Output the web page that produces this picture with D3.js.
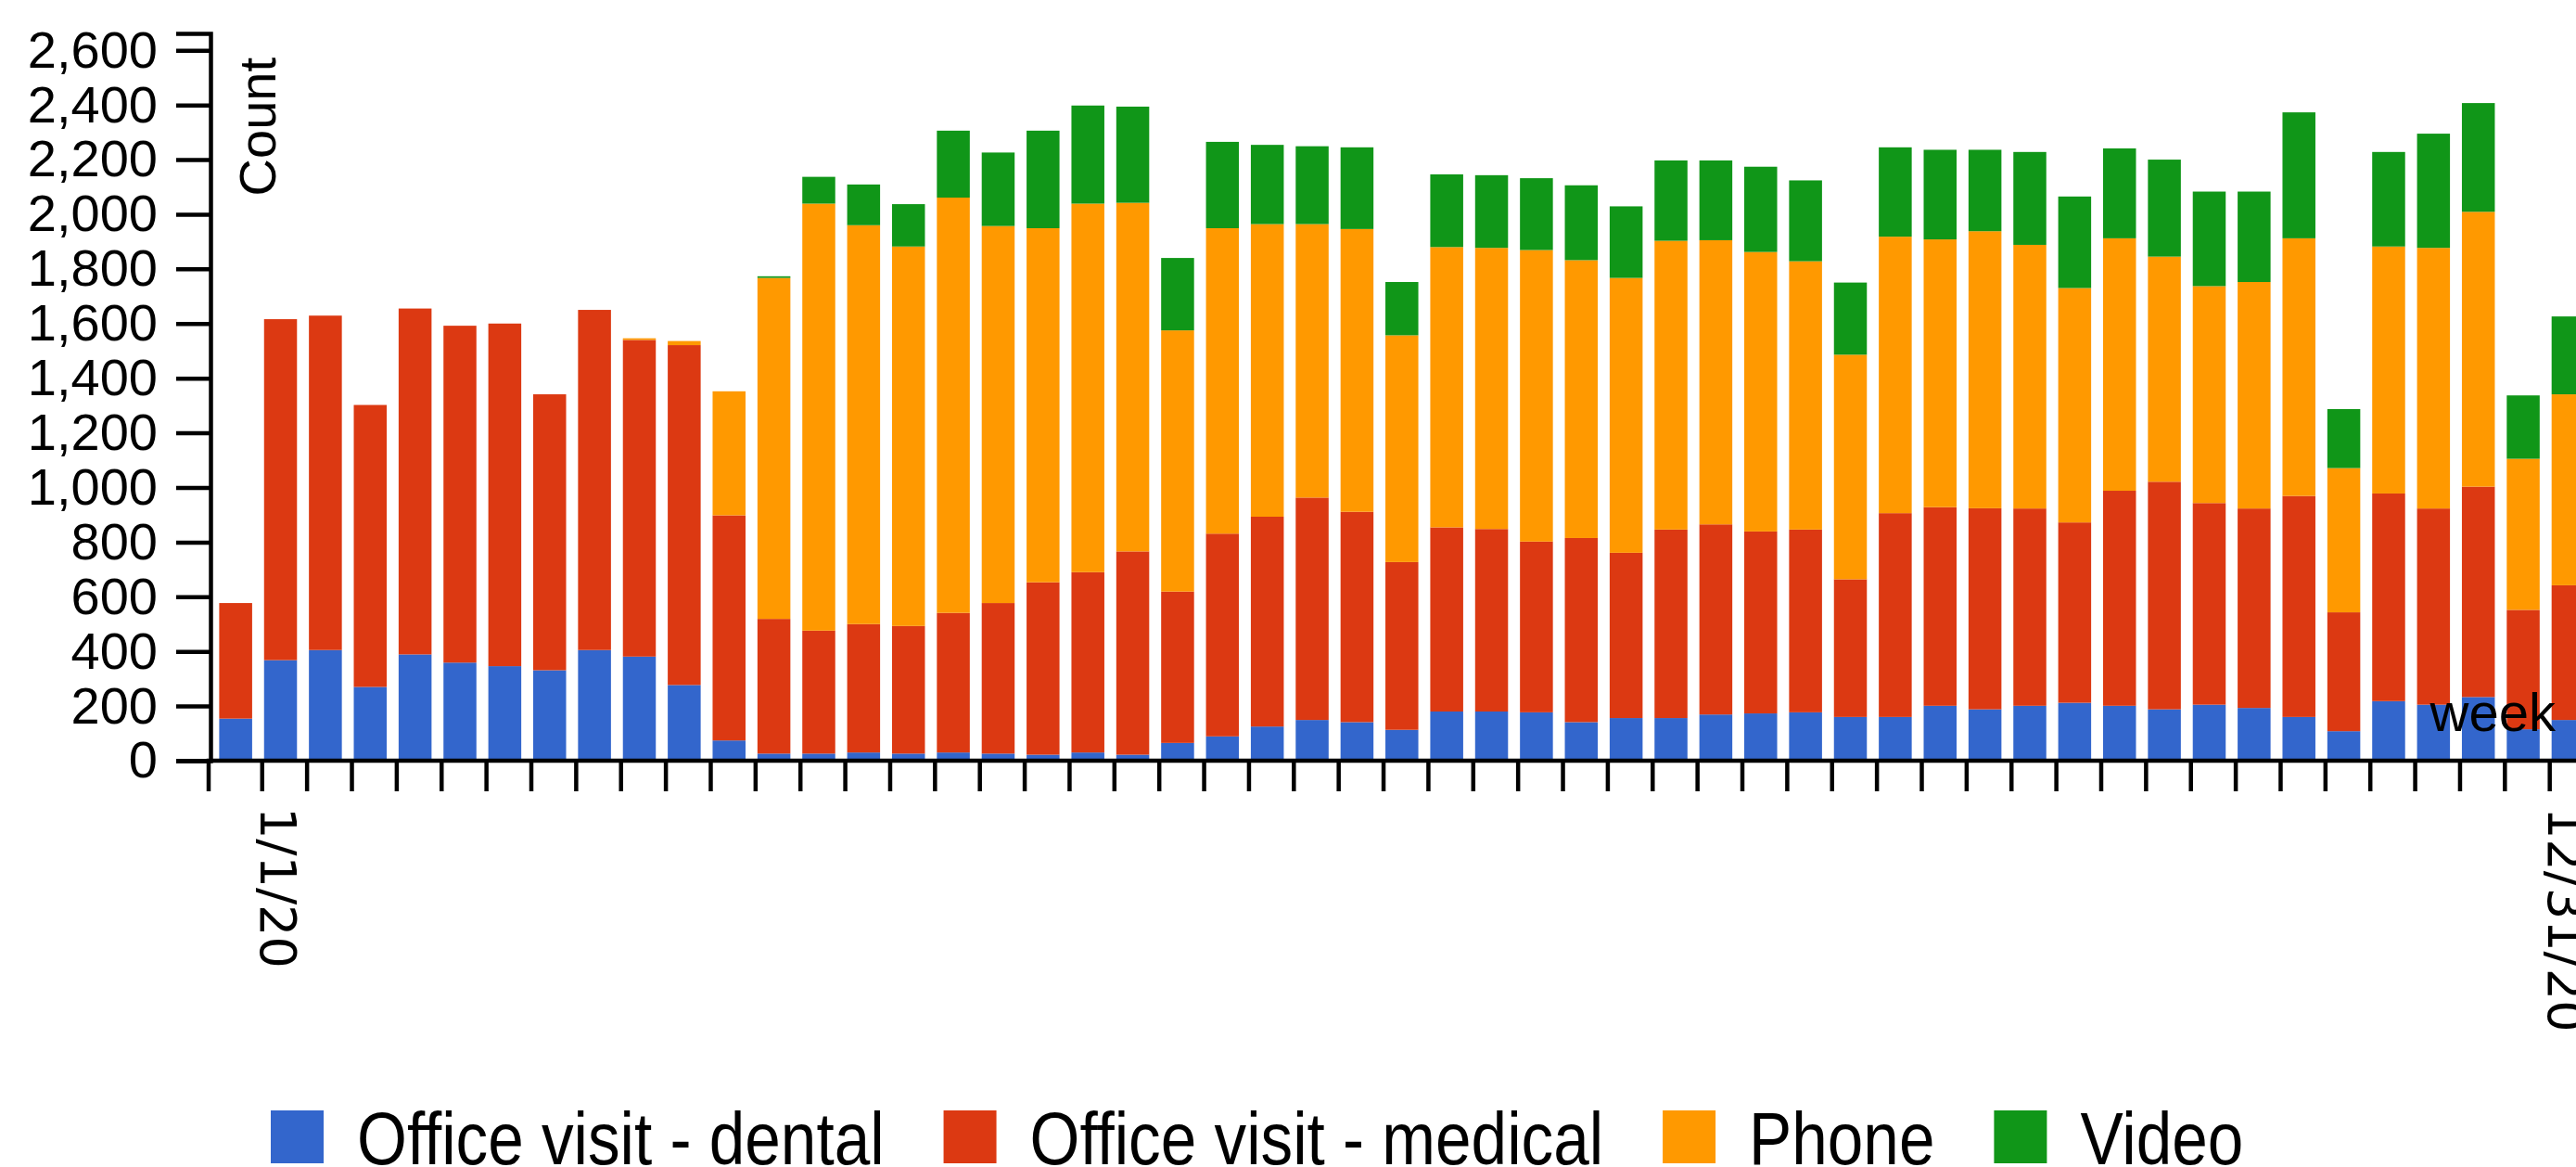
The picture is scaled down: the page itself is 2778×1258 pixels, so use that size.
<!DOCTYPE html>
<html lang="en">
<head>
<meta charset="UTF-8">
<title>Visits by week</title>
<script src="https://d3js.org/d3.v7.min.js"></script>
<style>
  body { margin: 0; background: #fff; }
  svg { display: block; font-family: Arial, "Liberation Sans", sans-serif; }
</style>
</head>
<body>
<div id="chart"></div>
<script>
// weekly buckets (week start)
const weeks = ["12/25/19",
  "1/1/20", "1/8/20", "1/15/20", "1/22/20", "1/29/20",
  "2/5/20", "2/12/20", "2/19/20", "2/26/20",
  "3/4/20", "3/11/20", "3/18/20", "3/25/20",
  "4/1/20", "4/8/20", "4/15/20", "4/22/20", "4/29/20",
  "5/6/20", "5/13/20", "5/20/20", "5/27/20",
  "6/3/20", "6/10/20", "6/17/20", "6/24/20",
  "7/1/20", "7/8/20", "7/15/20", "7/22/20", "7/29/20",
  "8/5/20", "8/12/20", "8/19/20", "8/26/20",
  "9/2/20", "9/9/20", "9/16/20", "9/23/20", "9/30/20",
  "10/7/20", "10/14/20", "10/21/20", "10/28/20",
  "11/4/20", "11/11/20", "11/18/20", "11/25/20",
  "12/2/20", "12/9/20", "12/16/20", "12/23/20"];

const seriesNames = ["Office visit - dental", "Office visit - medical", "Phone", "Video"];
const colors = ["#3366cc", "#dc3912", "#ff9900", "#109618"];

const dental = [154, 368, 405, 270, 389, 359, 346, 331, 405, 381, 277, 74, 26, 26, 30, 26, 30, 26, 22, 30,
  22, 65, 89, 125, 149, 141, 113, 180, 180, 177, 141, 156, 156, 169, 173, 177, 160, 160, 201, 188,
  201, 212, 201, 188, 205, 193, 160, 108, 218, 205, 233, 115, 149];
const medical = [423, 1248, 1224, 1032, 1266, 1233, 1254, 1010, 1245, 1159, 1244, 824, 493, 450, 470, 467, 511, 551, 631, 660,
  744, 554, 742, 768, 814, 770, 614, 674, 668, 625, 674, 605, 690, 696, 666, 669, 504, 746, 727, 736,
  722, 660, 787, 833, 738, 730, 809, 435, 760, 718, 770, 437, 493];
const phone = [0, 0, 0, 0, 0, 0, 0, 0, 0, 6, 15, 454, 1248, 1563, 1460, 1389, 1520, 1380, 1296, 1349,
  1276, 956, 1118, 1071, 1001, 1035, 830, 1026, 1029, 1067, 1017, 1006, 1057, 1040, 1023, 982, 822, 1012, 980, 1014,
  965, 858, 924, 824, 794, 829, 943, 528, 904, 954, 1006, 553, 699];
const video = [0, 0, 0, 0, 0, 0, 0, 0, 0, 0, 0, 0, 6, 98, 149, 155, 245, 269, 357, 359,
  352, 265, 316, 290, 285, 299, 195, 266, 266, 263, 274, 262, 294, 292, 312, 296, 264, 327, 328, 298,
  340, 335, 329, 355, 346, 331, 461, 216, 346, 418, 398, 232, 285];

const yTicks = [0, 200, 400, 600, 800, 1000, 1200, 1400, 1600, 1800, 2000, 2200, 2400, 2600];
const tickWeeks = ["1/1/20", "12/23/20"];
const tickLabels = ["1/1/20", "12/31/20"];

const width = 2778, height = 1258;
const svg = d3.select("#chart").append("svg")
    .attr("width", width)
    .attr("height", height);

const keys = ["dental", "medical", "phone", "video"];
const rows = weeks.map((w, i) => ({ week: w, dental: dental[i], medical: medical[i], phone: phone[i], video: video[i] }));
const stacked = d3.stack().keys(keys)(rows);

const x = d3.scaleBand().domain(weeks).range([236.4, 2787.2])
    .paddingInner(0.266).paddingOuter(0).align(0);
const y = d3.scaleLinear().domain([0, 2662]).range([820, 36]);

// bars
svg.append("g")
  .selectAll("g")
  .data(stacked)
  .join("g")
    .attr("fill", (d, i) => colors[i])
  .selectAll("rect")
  .data(d => d)
  .join("rect")
    .attr("x", d => x(d.data.week))
    .attr("y", d => y(d[1]))
    .attr("width", x.bandwidth())
    .attr("height", d => y(d[0]) - y(d[1]));

// y axis
svg.append("g")
    .attr("transform", "translate(227,0)")
    .call(d3.axisLeft(y).tickValues(yTicks).tickFormat(d3.format(",")).tickSize(37).tickPadding(20))
    .attr("font-size", 56)
    .attr("font-family", "Arial, 'Liberation Sans', sans-serif")
    .call(g => g.selectAll("path, line").attr("stroke", "#000").attr("stroke-width", 4.5))
    .call(g => g.selectAll("text").attr("fill", "#000"));

svg.append("text")
    .attr("transform", "translate(297,62) rotate(-90)")
    .attr("text-anchor", "end")
    .attr("font-size", 56)
    .text("Count");

// x axis: ticks at each week start, only two labelled
const tickX = w => x(w) - 2;
const xg = svg.append("g");
xg.append("path")
    .attr("d", `M225,853V820H${width + 20}`)
    .attr("fill", "none")
    .attr("stroke", "#000")
    .attr("stroke-width", 4.5);
xg.selectAll("line")
  .data(weeks.slice(1))
  .join("line")
    .attr("x1", tickX)
    .attr("x2", tickX)
    .attr("y1", 820)
    .attr("y2", 853)
    .attr("stroke", "#000")
    .attr("stroke-width", 4.5);
xg.selectAll("text")
  .data(tickWeeks)
  .join("text")
    .attr("transform", d => `translate(${tickX(d) - 2},870) rotate(90)`)
    .attr("font-family", "'DejaVu Sans', sans-serif")
    .attr("font-size", 54)
    .text((d, i) => tickLabels[i]);

svg.append("text")
    .attr("x", 2756)
    .attr("y", 788)
    .attr("text-anchor", "end")
    .attr("font-size", 58)
    .text("week");

// legend
const legend = svg.append("g");
let lx = 292;
seriesNames.forEach((name, i) => {
  const g = legend.append("g").attr("transform", `translate(${lx},1197)`);
  g.append("rect").attr("width", 57).attr("height", 57).attr("fill", colors[i]);
  const t = g.append("text")
      .attr("transform", "translate(93,58) scale(0.866,1)")
      .attr("font-size", 80)
      .text(name);
  lx += 93 + t.node().getComputedTextLength() * 0.866 + 64;
});
</script>
</body>
</html>
